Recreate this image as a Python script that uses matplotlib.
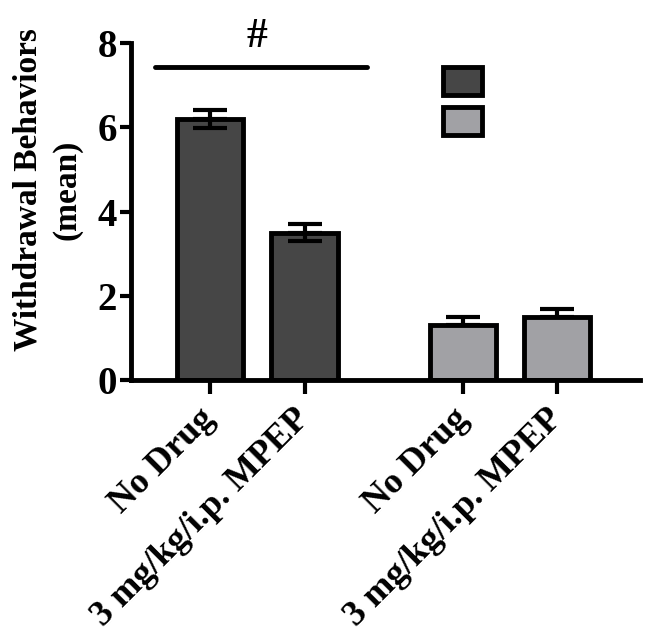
import matplotlib.pyplot as plt

labels = ['No Drug', '3 mg/kg/i.p. MPEP', 'No Drug', '3 mg/kg/i.p. MPEP']
positions = [0, 1, 2.67, 3.66]
means = [6.2, 3.5, 1.3, 1.5]
sem = [0.22, 0.2, 0.2, 0.2]
colors = ['#464646', '#464646', '#a1a1a5', '#a1a1a5']

plt.rcParams['font.family'] = 'Liberation Serif'
plt.rcParams['font.weight'] = 'bold'

fig = plt.figure(figsize=(6.45, 6.37), dpi=100)
ax = fig.add_axes([0.203, 0.403, 0.789, 0.5296])

# lower error half only shows for the first group
lower = [sem[0], sem[1], 0, 0]
ax.errorbar(positions, means, yerr=[lower, sem], fmt='none', ecolor='black',
            elinewidth=3, capsize=12, capthick=3, zorder=1)
bars = ax.bar(positions, means, width=0.7, color=colors, edgecolor='black',
              linewidth=3.5, zorder=2)
# draw lower error bars over the dark bars
ax.errorbar(positions[:2], means[:2], yerr=[lower[:2], [0, 0]], fmt='none',
            ecolor='black', elinewidth=3, capsize=12, capthick=3, zorder=3)

ax.plot([-0.58, 1.66], [7.43, 7.43], color='black', lw=3.5, solid_capstyle='round')
ax.text(0.5, 7.7, '#', ha='center', va='bottom', fontsize=30, fontweight='bold')

ax.legend([bars[0], bars[2]], ['', ''], loc='upper left', bbox_to_anchor=(0.613, 0.929),
          frameon=False, fontsize=19, handlelength=1.5, handleheight=1.25,
          labelspacing=0.45, borderaxespad=0, borderpad=0, handletextpad=0)

ax.set_xlim(-0.83, 4.53)
ax.set_ylim(0, 8)
ax.set_yticks([0, 2, 4, 6, 8])
ax.set_xticks(positions)
ax.set_xticklabels(labels, rotation=45, ha='right', va='center', rotation_mode='anchor',
                   fontsize=26, fontweight='bold')
ax.tick_params(axis='y', labelsize=28, width=3, length=8, direction='out', pad=2)
ax.tick_params(axis='x', width=3, length=10, direction='out', pad=14)
for lab in ax.get_yticklabels():
    lab.set_fontweight('bold')
ax.spines['top'].set_visible(False)
ax.spines['right'].set_visible(False)
ax.spines['left'].set_linewidth(3.5)
ax.spines['bottom'].set_linewidth(3.5)
ax.set_ylabel('Withdrawal Behaviors\n(mean)', fontsize=24, fontweight='bold',
              linespacing=1.3)
ax.yaxis.set_label_coords(-0.096, 0.564)

fig.savefig('out.png', dpi=100)
